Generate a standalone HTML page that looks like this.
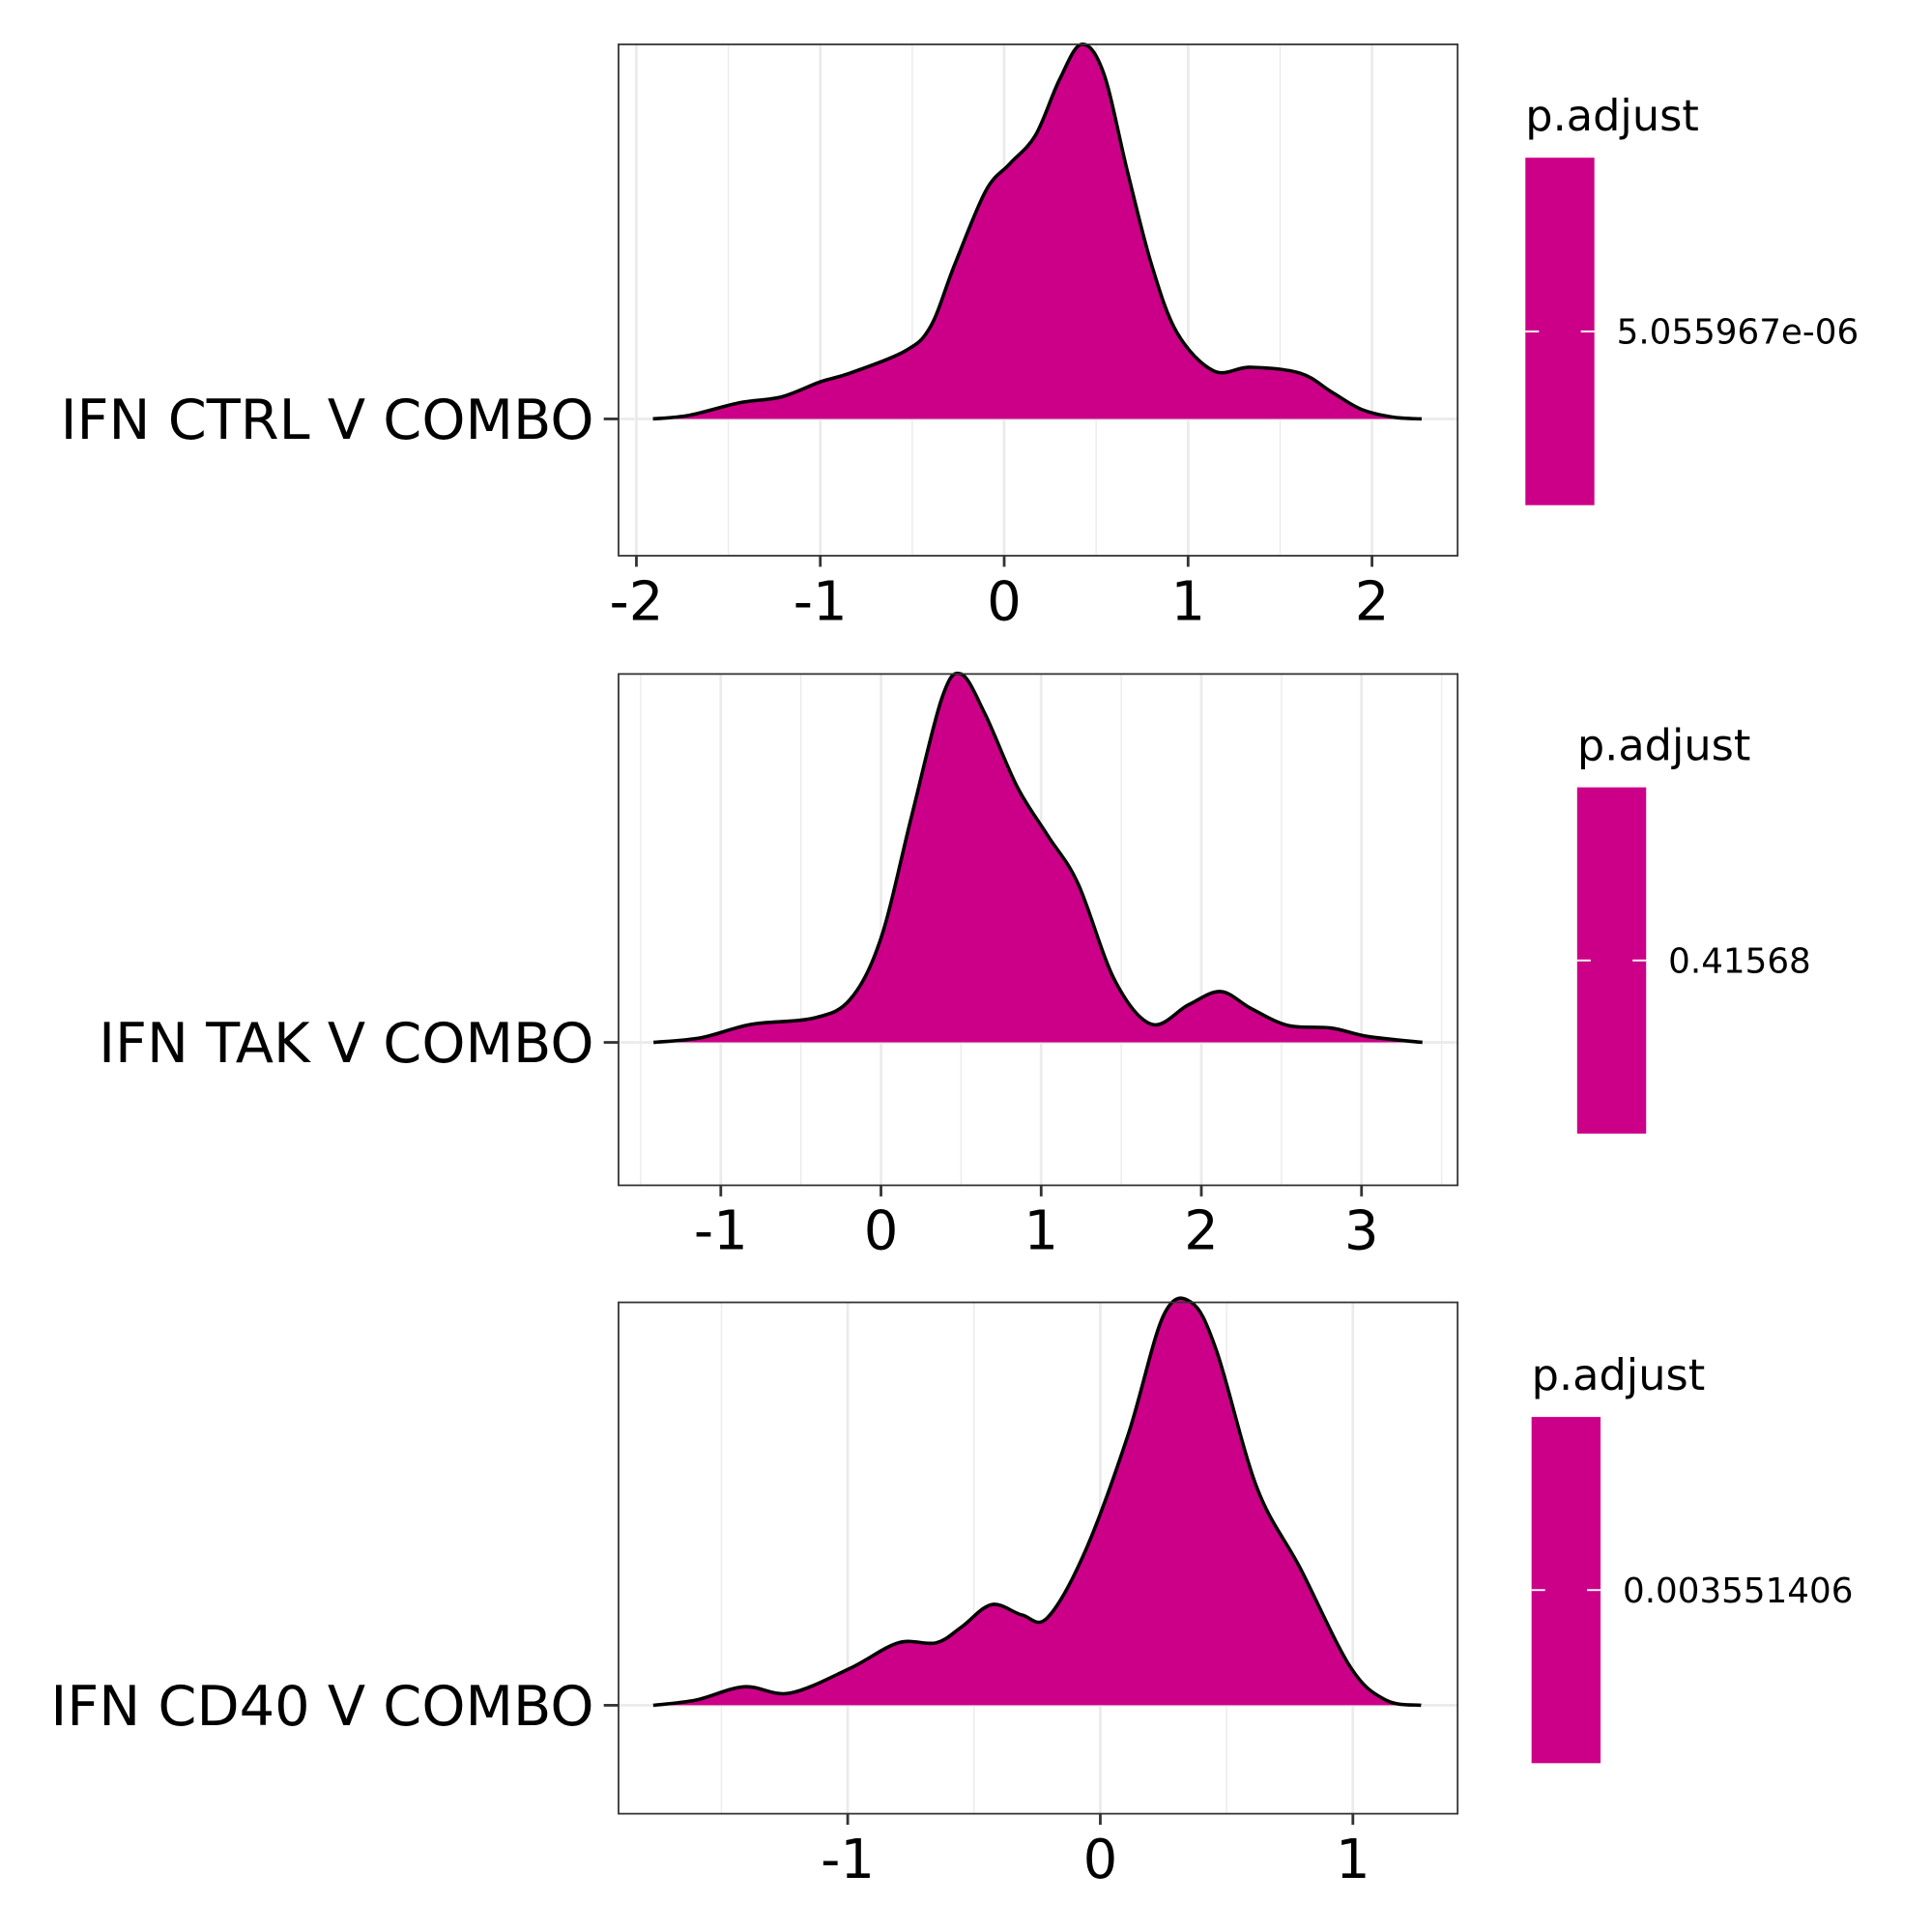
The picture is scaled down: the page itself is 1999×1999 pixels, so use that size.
<!DOCTYPE html>
<html><head><meta charset="utf-8"><style>
html,body{margin:0;padding:0;background:#fff;}
svg{display:block;font-family:"DejaVu Sans","Liberation Sans",sans-serif;}
</style></head><body>
<svg id="chart" width="1999" height="1999" viewBox="0 0 1568 1568" xmlns="http://www.w3.org/2000/svg"></svg>
<script>
// Panel 1: IFN CTRL V COMBO
const p1X = [-1.91,-1.71,-1.44,-1.21,-1.0,-0.84,-0.54,-0.40,-0.27,-0.10,0.03,0.17,0.30,0.42,0.54,0.67,0.80,0.94,1.14,1.34,1.61,1.78,1.94,2.11,2.27];
const p1Y = [0,0.01,0.043,0.059,0.099,0.122,0.181,0.247,0.411,0.609,0.681,0.757,0.905,1.0,0.924,0.661,0.414,0.230,0.128,0.138,0.122,0.072,0.026,0.005,0];
const p1Ticks = [-2,-1,0,1,2];
// Panel 2: IFN TAK V COMBO
const p2X = [-1.42,-1.12,-0.81,-0.42,-0.19,0,0.19,0.38,0.50,0.65,0.85,1.04,1.23,1.46,1.69,1.92,2.12,2.31,2.54,2.81,3.04,3.38];
const p2Y = [0,0.013,0.049,0.066,0.118,0.283,0.612,0.934,1.0,0.891,0.694,0.562,0.431,0.168,0.049,0.102,0.138,0.092,0.046,0.039,0.016,0];
const p2Ticks = [-1,0,1,2,3];
// Panel 3: IFN CD40 V COMBO
const p3X = [-1.77,-1.60,-1.41,-1.23,-0.99,-0.80,-0.65,-0.55,-0.43,-0.31,-0.21,-0.06,0.11,0.25,0.36,0.46,0.62,0.79,0.99,1.13,1.27];
const p3Y = [0,0.013,0.046,0.030,0.092,0.155,0.155,0.194,0.250,0.224,0.217,0.382,0.671,0.967,1.0,0.88,0.54,0.342,0.095,0.013,0];
const p3Ticks = [-1,0,1];
const labels = ["IFN CTRL V COMBO","IFN TAK V COMBO","IFN CD40 V COMBO"];
const pvals = ["5.055967e-06","0.41568","0.003551406"];

const NS="http://www.w3.org/2000/svg";
const svg=document.getElementById('chart');
function mk(tag,attrs,parent){const e=document.createElementNS(NS,tag);for(const k in attrs)e.setAttribute(k,attrs[k]);(parent||svg).appendChild(e);return e;}

const panels=[
 {xs:p1X,ys:p1Y,ticks:p1Ticks,top:36,bottom:451,base:340,x0:815,unit:149.25,legX:1238,legTop:128,legBot:410,legTitleY:106},
 {xs:p2X,ys:p2Y,ticks:p2Ticks,top:547,bottom:962,base:846,x0:715,unit:130,legX:1280,legTop:639,legBot:920,legTitleY:617},
 {xs:p3X,ys:p3Y,ticks:p3Ticks,top:1057,bottom:1472,base:1384,x0:893,unit:205,legX:1243,legTop:1150,legBot:1431,legTitleY:1128}
];
const L=502,R=1183;

panels.forEach((p,i)=>{
 const g=mk('g',{});
 
 
 const xs=v=>p.x0+v*p.unit;
 const ys=v=>p.base-v*(p.base-p.top);
 const lo=(L-p.x0)/p.unit, hi=(R-p.x0)/p.unit;
 for(let v=Math.ceil(lo*2)/2; v<=hi; v+=0.5){
  const major=Math.abs(v-Math.round(v))<1e-6;
  const gl=mk('line',{x1:xs(v),x2:xs(v),y1:p.top,y2:p.bottom,stroke:'#ebebeb','stroke-width':major?2.2:1.1},g);
  
  
 }
 const hl=mk('line',{x1:L,x2:R,y1:p.base,y2:p.base,stroke:'#ebebeb','stroke-width':2.2},g);
 
 
 const pts=p.xs.map((x,k)=>[xs(x),ys(p.ys[k])]);
 let d='M'+pts[0][0]+','+pts[0][1];
 for(let k=0;k<pts.length-1;k++){
  const a=pts[k-1]||pts[k],b=pts[k],c=pts[k+1],e=pts[k+2]||c;
  const c1=[b[0]+(c[0]-a[0])/6,b[1]+(c[1]-a[1])/6];
  const c2=[c[0]-(e[0]-b[0])/6,c[1]-(e[1]-b[1])/6];
  d+=' C'+c1[0]+','+c1[1]+' '+c2[0]+','+c2[1]+' '+c[0]+','+c[1];
 }
 const area=mk('path',{d:d+' Z',fill:'#cc0088',stroke:'none'},g);
 
 
 const line=mk('path',{d:d,fill:'none',stroke:'#000','stroke-width':2.8},g);
 
 
 const br=mk('rect',{x:L,y:p.top,width:R-L,height:p.bottom-p.top,fill:'none',stroke:'#333','stroke-width':1.4},g);
 
 
 mk('line',{x1:490,x2:L,y1:p.base,y2:p.base,stroke:'#333','stroke-width':2.2},g);
 const yl=mk('text',{x:482,y:p.base+16,'text-anchor':'end','font-size':45,fill:'#000'},g);
 yl.textContent=labels[i];
 
 
 p.ticks.forEach(t=>{
  mk('line',{x1:xs(t),x2:xs(t),y1:p.bottom,y2:p.bottom+9,stroke:'#333','stroke-width':2.2},g);
  const tl=mk('text',{x:xs(t),y:p.bottom+52,'text-anchor':'middle','font-size':44,fill:'#000'},g);
  tl.textContent=t<0?'-'+Math.abs(t):String(t);
  
  
 });
 const lt=mk('text',{x:p.legX,y:p.legTitleY,'font-size':35,fill:'#000'},g);
 lt.textContent='p.adjust';
 
 
 const lb=mk('rect',{x:p.legX,y:p.legTop,width:56,height:p.legBot-p.legTop,fill:'#cc0088'},g);
 
 
 const my=(p.legTop+p.legBot)/2;
 mk('line',{x1:p.legX,x2:p.legX+11,y1:my,y2:my,stroke:'#fff','stroke-width':1.5},g);
 mk('line',{x1:p.legX+45,x2:p.legX+56,y1:my,y2:my,stroke:'#fff','stroke-width':1.5},g);
 const lv=mk('text',{x:p.legX+74,y:my+10,'font-size':28,fill:'#000'},g);
 lv.textContent=pvals[i];
 
 
});
</script>
</body></html>
